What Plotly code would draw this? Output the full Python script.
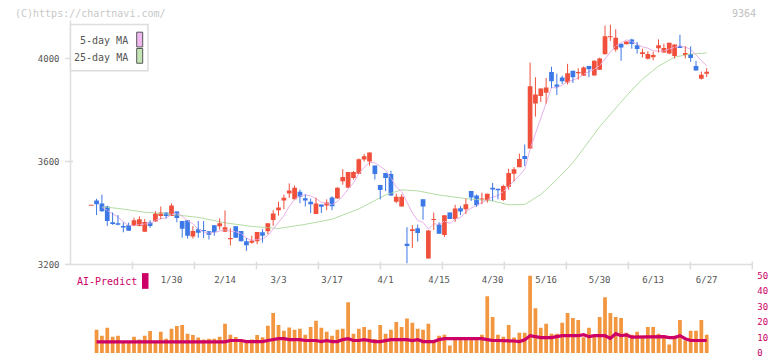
import plotly.graph_objects as go
import pandas as pd

W, H = 772, 361

# ---- data ----
opens = [3428, 3449, 3437, 3425, 3364, 3360, 3350, 3353, 3350, 3350,
         3327, 3363, 3367, 3388, 3402, 3388, 3406, 3369, 3372, 3309,
         3337, 3334, 3329, 3353, 3349, 3327, 3298, 3349, 3330, 3290,
         3285, 3290, 3325, 3329, 3373, 3411, 3449, 3476, 3453, 3483,
         3457, 3444, 3396, 3433, 3429, 3460, 3456, 3523, 3498, 3536,
         3552, 3608, 3600, 3584, 3509, 3555, 3551, 3444, 3425, 3281,
         3330, 3341, 3453, 3223, 3373, 3355, 3315, 3402, 3377, 3419,
         3415, 3485, 3468, 3452, 3447, 3498, 3494, 3451, 3502, 3552,
         3578, 3621, 3650, 3825, 3854, 3867, 3947, 3899, 3926, 3907,
         3952, 3943, 3933, 3971, 3934, 3956, 4016, 4082, 4035, 4057,
         4055, 4074, 4051, 4017, 3999, 4005, 4040, 4023, 4019, 4009,
         4047, 4013, 4017, 3971, 3921, 3941]
highs = [3428, 3455, 3471, 3428, 3402, 3392, 3364, 3363, 3382, 3387,
         3377, 3372, 3407, 3425, 3402, 3437, 3406, 3369, 3372, 3349,
         3369, 3369, 3329, 3353, 3379, 3410, 3341, 3349, 3330, 3303,
         3312, 3326, 3337, 3360, 3411, 3444, 3471, 3515, 3507, 3491,
         3472, 3456, 3459, 3433, 3453, 3465, 3500, 3570, 3559, 3563,
         3612, 3629, 3635, 3584, 3509, 3555, 3564, 3475, 3473, 3345,
         3353, 3355, 3453, 3334, 3402, 3364, 3391, 3402, 3432, 3427,
         3456, 3485, 3472, 3479, 3475, 3517, 3494, 3510, 3572, 3578,
         3631, 3666, 3984, 3927, 3883, 3924, 3968, 3941, 3933, 3979,
         3952, 3962, 3969, 3971, 3993, 4003, 4128, 4131, 4113, 4057,
         4066, 4076, 4064, 4038, 4028, 4026, 4074, 4057, 4061, 4054,
         4092, 4047, 4047, 3991, 3949, 3962]
lows = [3428, 3392, 3405, 3350, 3354, 3352, 3325, 3331, 3349, 3348,
        3327, 3343, 3367, 3376, 3379, 3388, 3364, 3304, 3301, 3301,
        3304, 3303, 3297, 3312, 3336, 3327, 3274, 3304, 3290, 3253,
        3281, 3279, 3285, 3317, 3350, 3390, 3415, 3459, 3453, 3438,
        3425, 3400, 3396, 3400, 3411, 3411, 3456, 3510, 3498, 3530,
        3552, 3600, 3584, 3530, 3453, 3485, 3468, 3438, 3425, 3205,
        3264, 3289, 3374, 3223, 3334, 3320, 3307, 3377, 3366, 3392,
        3396, 3447, 3424, 3434, 3440, 3447, 3453, 3447, 3491, 3523,
        3578, 3583, 3650, 3774, 3831, 3825, 3886, 3858, 3901, 3899,
        3905, 3918, 3933, 3927, 3934, 3956, 4016, 4068, 4026, 3991,
        4055, 4038, 4019, 4004, 3996, 3993, 4023, 4023, 4016, 4000,
        4041, 4000, 3987, 3953, 3918, 3928]
closes = [3428, 3434, 3407, 3369, 3357, 3354, 3344, 3331, 3372, 3376,
          3365, 3350, 3398, 3402, 3388, 3429, 3381, 3339, 3312, 3330,
          3323, 3330, 3316, 3325, 3360, 3345, 3303, 3304, 3290, 3275,
          3292, 3326, 3312, 3360, 3398, 3421, 3459, 3487, 3498, 3463,
          3449, 3434, 3437, 3424, 3441, 3426, 3498, 3540, 3559, 3559,
          3609, 3620, 3635, 3551, 3489, 3536, 3468, 3463, 3463, 3272,
          3337, 3322, 3425, 3332, 3377, 3320, 3391, 3377, 3418, 3406,
          3434, 3460, 3430, 3456, 3475, 3491, 3488, 3505, 3555, 3570,
          3610, 3610, 3892, 3860, 3883, 3887, 3911, 3890, 3911, 3943,
          3927, 3947, 3965, 3958, 3991, 4000, 4086, 4086, 4080, 4042,
          4066, 4056, 4037, 4024, 4017, 4013, 4051, 4041, 4061, 4054,
          4041, 4021, 4002, 3953, 3937, 3948]
volumes = [None, 15.0, 11.2, 16.3, 10.6, 11.2, 7.2, 7.2, 10.6, 8.7,
           11.2, 14.2, 7.2, 13.8, 9.3, 15.7, 17.4, 18.2, 12.5, 11.7,
           10.0, 8.7, 9.3, 9.3, 10.6, 18.9, 11.9, 10.4, 8.1, 8.5,
           8.7, 11.7, 10.2, 17.6, 25.8, 18.2, 14.4, 16.5, 15.0, 15.7,
           11.9, 16.9, 20.8, 16.3, 13.8, 11.2, 15.0, 15.7, 32.8, 12.5,
           15.7, 16.9, 15.0, 9.1, 18.2, 12.5, 15.0, 20.1, 16.9, 22.3,
           19.5, 15.7, 15.0, 18.9, 8.1, 11.2, 11.9, 4.9, 9.1, 9.1,
           10.0, 9.1, 9.1, 11.9, 36.7, 23.3, 11.9, 10.6, 18.2, 10.0,
           13.1, 13.1, 50.0, 29.0, 16.3, 18.9, 12.5, 12.5, 19.5, 25.8,
           22.7, 21.4, 10.2, 16.3, 11.9, 23.3, 36.0, 25.8, 23.3, 22.7,
           13.1, 11.9, 13.8, 10.0, 16.9, 16.9, 12.5, 11.2, 5.5, 11.2,
           21.4, 8.1, 14.4, 14.4, 21.4, 11.9]
ai_predict = [None, 7.2, 7.2, 7.2, 7.2, 7.2, 7.2, 7.2, 7.2, 7.2,
              7.2, 7.2, 7.2, 7.2, 7.2, 7.2, 7.2, 7.2, 7.2, 7.2,
              7.2, 7.2, 7.2, 7.2, 7.2, 7.2, 8.1, 8.1, 8.1, 7.4,
              7.4, 7.4, 7.4, 8.1, 8.7, 9.3, 9.3, 8.7, 8.7, 8.7,
              8.1, 8.1, 8.1, 7.4, 8.1, 7.4, 7.4, 8.7, 9.3, 8.1,
              8.1, 8.7, 8.1, 7.4, 7.4, 8.1, 8.7, 8.7, 8.7, 8.7,
              8.1, 8.7, 7.4, 7.4, 7.4, 8.7, 9.3, 9.3, 9.3, 9.3,
              9.3, 9.3, 9.3, 9.3, 8.7, 8.1, 8.1, 8.1, 7.6, 7.8,
              7.4, 8.5, 11.2, 10.6, 10.0, 10.0, 10.0, 10.6, 11.2, 11.2,
              11.2, 11.2, 11.9, 10.6, 11.2, 11.2, 11.2, 9.5, 12.5, 11.2,
              11.7, 10.3, 10.3, 10.3, 10.6, 10.6, 10.6, 10.6, 10.0, 10.0,
              11.2, 9.3, 8.1, 8.1, 8.1, 8.1]
ma25_idx = [2, 5, 10, 15, 20, 25, 30, 35, 40, 45, 50, 55, 58, 61, 65,
            70, 75, 78, 81, 84, 87, 90, 95, 100, 103, 106, 109, 112, 115]
ma25_val = [3424, 3418, 3403, 3395, 3383, 3362, 3348, 3340, 3356, 3376,
            3416, 3470, 3490, 3486, 3470, 3456, 3447, 3432, 3433, 3472,
            3530, 3595, 3735, 3855, 3920, 3970, 4005, 4017, 4021]
x_tick_idx = [15, 25, 35, 45, 55, 65, 75, 85, 95, 105, 115]
x_tick_labels = ["1/30", "2/14", "3/3", "3/17", "4/1", "4/15",
                 "4/30", "5/16", "5/30", "6/13", "6/27"]
price_ticks = [3200, 3600, 4000]
volume_ticks = [0, 10, 20, 30, 40, 50]

# ---- styles ----
RED = "#f0503c"
BLUE = "#3c78e6"
ORANGE = "#f39640"
MAGENTA = "#cc0066"
PINK = "#e8b0e8"
GREEN = "#b4dca4"
AXIS = "#dddddd"
FONT = "DejaVu Sans Mono"

idx = list(range(len(closes)))
ma5 = pd.Series(closes, dtype=float).rolling(5, min_periods=1).mean().tolist()
ma5_x = idx[2:]
ma5_y = ma5[2:]


def px_x(p):
    return p / W


def px_y(p):
    return 1 - p / H


# axis geometry (pixels)
X_L, X_R = 70.5, 752.3
MAIN_TOP, MAIN_BOT = 20.0, 268.0
VOL_TOP, VOL_BOT = 275.0, 358.0
X_RANGE = [-3.87, 123.52]
Y_RANGE = [3200, 3200 + (MAIN_BOT - MAIN_TOP) * 3.817]
V_RANGE = [0, (VOL_BOT - VOL_TOP) / 1.574]

fig = go.Figure()

# moving averages
fig.add_trace(go.Scatter(x=ma25_idx, y=ma25_val, mode="lines",
                         line=dict(color=GREEN, width=1), hoverinfo="skip",
                         xaxis="x", yaxis="y"))
fig.add_trace(go.Scatter(x=ma5_x, y=ma5_y, mode="lines",
                         line=dict(color=PINK, width=1), hoverinfo="skip",
                         xaxis="x", yaxis="y"))

# candles
MIN_BODY = 3.8
for up, color in ((True, RED), (False, BLUE)):
    sel = [i for i in idx if (closes[i] >= opens[i]) == up]
    wx, wy = [], []
    for i in sel:
        wx += [i, i, None]
        wy += [lows[i], highs[i], None]
    fig.add_trace(go.Scatter(x=wx, y=wy, mode="lines",
                             line=dict(color=color, width=1),
                             hoverinfo="skip", xaxis="x", yaxis="y"))
    base = [min(opens[i], closes[i]) for i in sel]
    hgt = [max(abs(closes[i] - opens[i]), MIN_BODY) for i in sel]
    fig.add_trace(go.Bar(x=sel, y=hgt, base=base, width=0.88,
                         marker=dict(color=color, line=dict(width=0)),
                         hoverinfo="skip", xaxis="x", yaxis="y"))

# volume + AI predict
fig.add_trace(go.Bar(x=idx, y=volumes, width=0.7,
                     marker=dict(color=ORANGE, line=dict(width=0)),
                     hoverinfo="skip", xaxis="x2", yaxis="y2"))
fig.add_trace(go.Scatter(x=idx, y=ai_predict, mode="lines",
                         line=dict(color=MAGENTA, width=3.2),
                         hoverinfo="skip", xaxis="x2", yaxis="y2"))

shapes = []
# axis lines
shapes.append(dict(type="line", xref="paper", yref="paper",
                   x0=px_x(65), x1=px_x(X_R), y0=px_y(MAIN_BOT), y1=px_y(MAIN_BOT),
                   line=dict(color=AXIS, width=1.5), layer="below"))
shapes.append(dict(type="line", xref="paper", yref="paper",
                   x0=px_x(X_L), x1=px_x(X_L), y0=px_y(MAIN_TOP), y1=px_y(MAIN_BOT),
                   line=dict(color=AXIS, width=1.5), layer="below"))
# x tick marks (11 equal divisions)
for k in range(1, 12):
    xp = X_L + (X_R - X_L) * k / 11
    shapes.append(dict(type="line", xref="paper", yref="paper",
                       x0=px_x(xp), x1=px_x(xp), y0=px_y(265), y1=px_y(273),
                       line=dict(color=AXIS, width=1.5), layer="below"))
# y tick marks
for t in price_ticks:
    shapes.append(dict(type="line", xref="paper", yref="y",
                       x0=px_x(65), x1=px_x(73), y0=t, y1=t,
                       line=dict(color=AXIS, width=1.5), layer="below"))
# legend box
shapes.append(dict(type="rect", xref="paper", yref="paper",
                   x0=px_x(X_L), x1=px_x(148), y0=px_y(71), y1=px_y(24),
                   line=dict(color=AXIS, width=1.5), fillcolor="white"))
shapes.append(dict(type="rect", xref="paper", yref="paper",
                   x0=px_x(136.7), x1=px_x(142.7), y0=px_y(46.7), y1=px_y(31.7),
                   line=dict(color="#555555", width=1), fillcolor="#f0b8f0"))
shapes.append(dict(type="rect", xref="paper", yref="paper",
                   x0=px_x(136.7), x1=px_x(142.7), y0=px_y(63.3), y1=px_y(48.3),
                   line=dict(color="#555555", width=1), fillcolor="#c4e4b4"))
# AI-Predict swatch
shapes.append(dict(type="rect", xref="paper", yref="paper",
                   x0=px_x(142), x1=px_x(148.5), y0=px_y(292.7), y1=px_y(276.7),
                   line=dict(width=0), fillcolor=MAGENTA))

annotations = [
    dict(text="(C)https://chartnavi.com/", xref="paper", yref="paper",
         x=px_x(13), y=px_y(12.5), xanchor="left", yanchor="middle",
         showarrow=False, font=dict(family=FONT, size=10, color="#c8c8c8")),
    dict(text="9364", xref="paper", yref="paper",
         x=px_x(758), y=px_y(12.5), xanchor="right", yanchor="middle",
         showarrow=False, font=dict(family=FONT, size=10, color="#c0c0c0")),
    dict(text="5-day MA", xref="paper", yref="paper",
         x=px_x(129.5), y=px_y(40.5), xanchor="right", yanchor="middle",
         showarrow=False, font=dict(family=FONT, size=10, color="#555555")),
    dict(text="25-day MA", xref="paper", yref="paper",
         x=px_x(129.5), y=px_y(57), xanchor="right", yanchor="middle",
         showarrow=False, font=dict(family=FONT, size=10, color="#555555")),
    dict(text="AI-Predict", xref="paper", yref="paper",
         x=px_x(75), y=px_y(285), xanchor="left", yanchor="middle",
         showarrow=False, font=dict(family=FONT, size=10, color=MAGENTA)),
]

fig.update_layout(
    width=W, height=H,
    margin=dict(l=0, r=0, t=0, b=0),
    paper_bgcolor="white", plot_bgcolor="white",
    showlegend=False, barmode="overlay",
    shapes=shapes, annotations=annotations,
    xaxis=dict(domain=[px_x(X_L), px_x(X_R)], range=X_RANGE, anchor="y",
               tickvals=x_tick_idx, ticktext=x_tick_labels, ticks="",
               showgrid=False, zeroline=False, showline=False,
               ticklabelstandoff=8,
               tickfont=dict(family=FONT, size=9, color="#555555")),
    yaxis=dict(domain=[px_y(MAIN_BOT), px_y(MAIN_TOP)], range=Y_RANGE,
               anchor="x", tickvals=price_ticks, ticks="",
               showgrid=False, zeroline=False, showline=False,
               ticklabelstandoff=10,
               tickfont=dict(family=FONT, size=9, color="#555555")),
    xaxis2=dict(domain=[px_x(X_L), px_x(X_R)], range=X_RANGE, anchor="y2",
                visible=False),
    yaxis2=dict(domain=[px_y(VOL_BOT), px_y(VOL_TOP)], range=V_RANGE,
                anchor="x2", side="right", tickvals=volume_ticks, ticks="",
                showgrid=False, zeroline=False, showline=False,
                ticklabelstandoff=4,
                tickfont=dict(family=FONT, size=9, color=MAGENTA)),
)

fig.write_html(
    "out.html",
    config={"staticPlot": True, "displayModeBar": False},
    post_script="document.body.style.margin='0';document.body.style.padding='0';"
                "document.documentElement.style.overflow='hidden';",
)
